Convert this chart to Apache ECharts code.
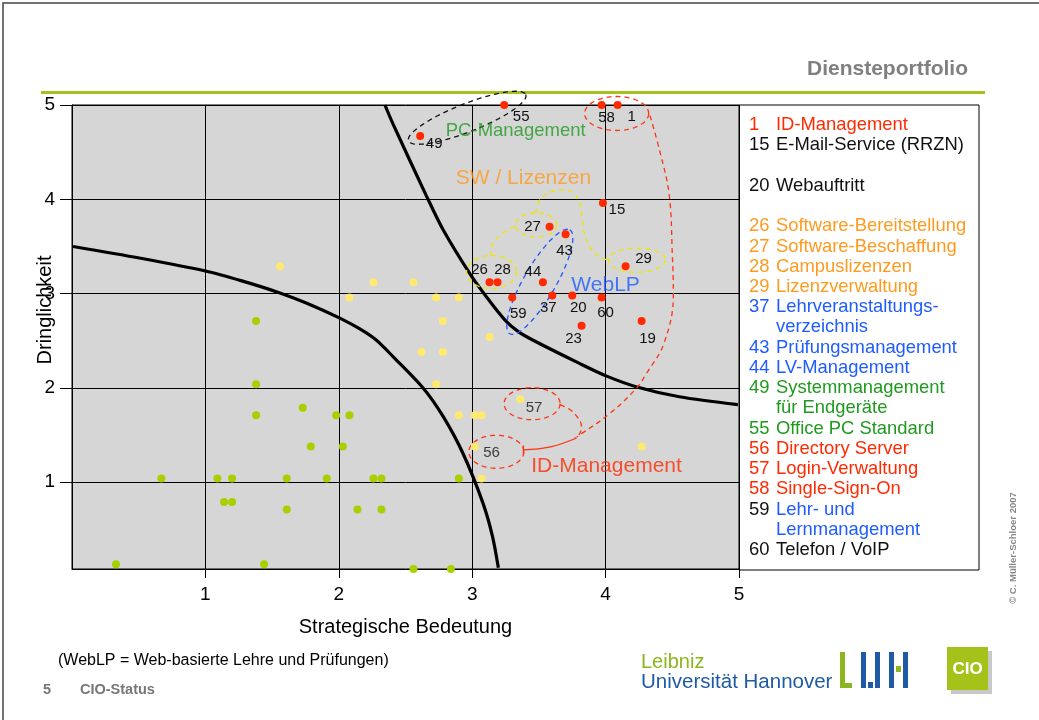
<!DOCTYPE html>
<html>
<head>
<meta charset="utf-8">
<script src="https://cdn.jsdelivr.net/npm/echarts@6/dist/echarts.min.js"></script>
<style>html,body{margin:0;padding:0;background:#fff}#c{width:1039px;height:720px}</style>
</head>
<body>
<div id="c"></div>
<script>
// ---------------- DATA ----------------
const xTicks = [1, 2, 3, 4, 5];
const yTicks = [1, 2, 3, 4, 5];

// Red (numbered) services
const redIds = ['55', '49', '58', '1', '15', '27', '43', '29', '26', '28', '44', '59', '37', '20', '60', '23', '19'];
const redX   = [3.24, 2.61, 3.97, 4.09, 3.98, 3.58, 3.70, 4.15, 3.13, 3.19, 3.53, 3.30, 3.60, 3.75, 3.97, 3.82, 4.27];
const redY   = [5.00, 4.67, 5.00, 5.00, 3.96, 3.71, 3.63, 3.29, 3.12, 3.12, 3.12, 2.96, 2.98, 2.98, 2.96, 2.66, 2.71];

// Yellow services
const yellowX = [1.56, 2.26, 2.56, 2.08, 2.73, 2.90, 2.78, 3.13, 2.62, 2.78, 2.73, 3.36, 2.90, 3.02, 3.07, 3.02, 4.27, 3.07];
const yellowY = [3.29, 3.12, 3.12, 2.96, 2.96, 2.96, 2.71, 2.54, 2.38, 2.38, 2.04, 1.88, 1.71, 1.71, 1.71, 1.38, 1.38, 1.04];

// Green services
const greenX = [1.38, 1.38, 1.38, 1.73, 1.98, 2.08, 1.79, 2.03, 0.67, 1.09, 1.20, 1.61, 1.91, 2.26, 2.32, 2.90, 1.14, 1.20, 1.61, 2.14, 2.32, 0.33, 1.44, 2.56, 2.84];
const greenY = [2.71, 2.04, 1.71, 1.79, 1.71, 1.71, 1.38, 1.38, 1.04, 1.04, 1.04, 1.04, 1.04, 1.04, 1.04, 1.04, 0.79, 0.79, 0.71, 0.71, 0.71, 0.13, 0.13, 0.08, 0.08];

// Boundary curves
const curveAX = [2.346, 2.406, 2.654, 2.782, 2.992, 3.116, 3.246, 3.348, 3.464, 3.804, 4.008, 4.235, 4.553, 4.992];
const curveAY = [5.00, 4.80, 4.045, 3.677, 3.19, 2.948, 2.719, 2.594, 2.50, 2.26, 2.125, 2.01, 1.906, 1.823];
const curveCX = [0.008, 0.515, 1.00, 1.273, 1.553, 1.765, 2.008, 2.158, 2.278, 2.406, 2.632, 2.782, 2.932, 3.08, 3.152, 3.196];
const curveCY = [3.50, 3.375, 3.24, 3.135, 3.01, 2.896, 2.74, 2.625, 2.51, 2.333, 2.00, 1.698, 1.302, 0.781, 0.427, 0.094];

// Legend entries
const legendNums  = ['1', '15', '', '20', '', '26', '27', '28', '29', '37', '', '43', '44', '49', '', '55', '56', '57', '58', '59', '', '60'];
const legendTexts = ['ID-Management', 'E-Mail-Service (RRZN)', '', 'Webauftritt', '', 'Software-Bereitstellung', 'Software-Beschaffung', 'Campuslizenzen', 'Lizenzverwaltung', 'Lehrveranstaltungs-', 'verzeichnis', 'Prüfungsmanagement', 'LV-Management', 'Systemmanagement', 'für Endgeräte', 'Office PC Standard', 'Directory Server', 'Login-Verwaltung', 'Single-Sign-On', 'Lehr- und', 'Lernmanagement', 'Telefon / VoIP'];

// ---------------- STYLE / LAYOUT ----------------
const FONT = '"Liberation Sans", Arial, Helvetica, sans-serif';
const C = { red: '#ff2a00', yellow: '#ffe96e', green: '#a8d000', orange: '#ff9a1f', blue: '#1f5cff', dgreen: '#1f9a1f', black: '#111111', plot: '#d6d6d6' };
const legendNumColor  = ['red','black','','black','','orange','orange','orange','orange','blue','','blue','blue','dgreen','','dgreen','red','red','red','black','','black'];
const legendTextColor = ['red','black','','black','','orange','orange','orange','orange','blue','blue','blue','blue','dgreen','dgreen','dgreen','red','red','red','blue','blue','black'];

// label offsets (px) of red point numbers
const redLabelOffset = {
  '55': [17, 12], '49': [14, 8], '58': [5, 13], '1': [14, 12], '15': [14, 7], '27': [-17, 0], '43': [-1, 17],
  '29': [18, -7], '26': [-10, -12], '28': [5, -12], '44': [-10, -10], '59': [6, 16], '37': [-4, 12],
  '20': [6, 12], '60': [4, 15], '23': [-8, 13], '19': [6, 18]
};

// Annotation ellipses (center in data units, semi-axes in px, angle in screen degrees)
const annEllipses = [
  { x: 2.962, y: 4.865, a: 63, b: 14, ang: -21.5, color: '#111111' },  // PC-Management
  { x: 4.083, y: 4.91, a: 32, b: 17, ang: 0, color: '#ff3311' },       // ID 58/1
  { x: 3.449, y: 1.833, a: 28, b: 16, ang: 0, color: '#ff3311' },      // 57
  { x: 3.181, y: 1.323, a: 27.5, b: 16.5, ang: 0, color: '#ff3311' },  // 56
  { x: 3.507, y: 3.125, a: 60, b: 16, ang: -60, color: '#2255ff' },    // WebLP
  { x: 3.145, y: 3.229, a: 25, b: 16.5, ang: 0, color: '#f2e600' },    // 26/28
  { x: 3.478, y: 3.729, a: 20.5, b: 12, ang: 0, color: '#f2e600' },    // 27
  { x: 4.235, y: 3.354, a: 28.5, b: 12, ang: 0, color: '#f2e600' }     // 29
];
// Annotation connector paths (data units)
const annPaths = [
  { color: '#ff3311', dash: [5, 4], pts: [[4.333, 4.888], [4.409, 4.494], [4.477, 4.045], [4.50, 3.417], [4.508, 3.0], [4.439, 2.479], [4.303, 2.146], [4.227, 1.99], [4.023, 1.719], [3.826, 1.521], [3.783, 1.479]] },
  { color: '#ff3311', dash: [5, 4], pts: [[3.659, 1.823], [3.732, 1.771], [3.79, 1.688], [3.819, 1.594], [3.804, 1.51], [3.768, 1.469]] },
  { color: '#ff3311', dash: null, pts: [[3.384, 1.344], [3.587, 1.375], [3.783, 1.469]] },
  { color: '#ff3311', dash: null, pts: [[3.384, 1.39], [3.384, 1.29]] },
  { color: '#f2e600', dash: [5, 4], pts: [[3.138, 3.396], [3.152, 3.521], [3.225, 3.635], [3.326, 3.719]] },
  { color: '#f2e600', dash: [5, 4], pts: [[3.478, 3.854], [3.50, 3.979], [3.587, 4.079], [3.71, 4.101], [3.804, 3.969], [3.826, 3.76], [3.855, 3.573], [3.928, 3.417], [4.022, 3.354]] }
];
// Annotation texts (data units)
const annTexts = [
  { t: 'PC-Management', x: 3.326, y: 4.73, color: '#1f9a1f', size: 18.5 },
  { t: 'SW / Lizenzen', x: 3.384, y: 4.225, color: '#ff9a1f', size: 21 },
  { t: 'WebLP', x: 4.0, y: 3.094, color: '#1f5cff', size: 21 },
  { t: 'ID-Management', x: 4.007, y: 1.167, color: '#ff2a00', size: 21 },
  { t: '57', x: 3.464, y: 1.79, color: '#111111', size: 15 },
  { t: '56', x: 3.145, y: 1.31, color: '#111111', size: 15 }
];

// ---------------- CHART ----------------
const chart = echarts.init(document.getElementById('c'), null, { renderer: 'canvas' });

function ellipsePoints(cx, cy, a, b, deg) {
  const th = deg * Math.PI / 180, pts = [];
  for (let i = 0; i <= 96; i++) {
    const t = i / 96 * Math.PI * 2;
    const ex = a * Math.cos(t), ey = b * Math.sin(t);
    pts.push([cx + ex * Math.cos(th) - ey * Math.sin(th), cy + ex * Math.sin(th) + ey * Math.cos(th)]);
  }
  return pts;
}

const redData = redIds.map((id, i) => ({
  name: id, value: [redX[i], redY[i]],
  label: { offset: redLabelOffset[id] }
}));

const series = [
  { type: 'line', data: curveAX.map((x, i) => [x, curveAY[i]]), smooth: 0.3, showSymbol: false, clip: false, silent: true,
    lineStyle: { color: '#000', width: 3.2 }, z: 2 },
  { type: 'line', data: curveCX.map((x, i) => [x, curveCY[i]]), smooth: 0.3, showSymbol: false, clip: false, silent: true,
    lineStyle: { color: '#000', width: 3.2 }, z: 2 },
  { type: 'scatter', data: greenX.map((x, i) => [x, greenY[i]]), symbolSize: 8, clip: false, itemStyle: { color: C.green, opacity: 1 }, z: 4 },
  { type: 'scatter', data: yellowX.map((x, i) => [x, yellowY[i]]), symbolSize: 8, clip: false, itemStyle: { color: C.yellow, opacity: 1 }, z: 4 },
  { type: 'scatter', data: redData, symbolSize: 8, clip: false, itemStyle: { color: C.red, opacity: 1 }, z: 5,
    label: { show: true, position: 'inside', formatter: p => p.name, color: C.black, fontSize: 15, fontFamily: FONT } },
  { type: 'custom', coordinateSystem: 'cartesian2d', clip: false, silent: true, z: 3,
    data: annEllipses.map(e => [e.x, e.y]),
    renderItem: (params, api) => {
      const e = annEllipses[params.dataIndex];
      const c = api.coord([e.x, e.y]);
      return { type: 'polyline', shape: { points: ellipsePoints(c[0], c[1], e.a, e.b, e.ang) },
        style: { fill: 'none', stroke: e.color, lineWidth: 1.3, lineDash: [5, 4] } };
    } },
  { type: 'scatter', data: annTexts.map(a => ({ value: [a.x, a.y], name: a.t,
      label: { color: a.color, fontSize: a.size } })),
    symbolSize: 0, clip: false, silent: true, z: 6,
    label: { show: true, position: 'inside', formatter: p => p.name, fontFamily: FONT } }
];
annPaths.forEach(p => series.push({
  type: 'line', data: p.pts, smooth: 0.4, showSymbol: false, clip: false, silent: true, z: 3,
  lineStyle: { color: p.color, width: 1.3, type: p.dash || 'solid' }
}));

// page graphics
const graphics = [
  { type: 'rect', shape: { x: 3, y: 3, width: 1040, height: 720 }, style: { fill: 'none', stroke: '#444', lineWidth: 1.5 }, z: -10, silent: true },
  { type: 'rect', shape: { x: 739, y: 105, width: 240, height: 465 }, style: { fill: '#fff', stroke: '#000', lineWidth: 1 }, z: -5, silent: true },
  { type: 'rect', shape: { x: 41, y: 91, width: 944, height: 3 }, style: { fill: '#a4c21c' }, silent: true },
  { type: 'text', x: 968, y: 69, style: { text: 'Diensteportfolio', fill: '#808080', font: 'bold 21px ' + FONT, align: 'right', verticalAlign: 'middle' } },
  { type: 'text', x: 45, y: 310, rotation: Math.PI / 2, style: { text: 'Dringlichkeit', fill: '#000', font: '20px ' + FONT, align: 'center', verticalAlign: 'middle' } },
  { type: 'text', x: 58, y: 661, style: { text: '(WebLP = Web-basierte Lehre und Prüfungen)', fill: '#000', font: '16px ' + FONT, verticalAlign: 'middle' } },
  { type: 'text', x: 43, y: 690, style: { text: '5', fill: '#777', font: 'bold 14.5px ' + FONT, verticalAlign: 'middle' } },
  { type: 'text', x: 80, y: 690, style: { text: 'CIO-Status', fill: '#777', font: 'bold 14.5px ' + FONT, verticalAlign: 'middle' } },
  { type: 'text', x: 641, y: 662, style: { text: 'Leibniz', fill: '#8db51e', font: '20px ' + FONT, verticalAlign: 'middle' } },
  { type: 'text', x: 641, y: 682, style: { text: 'Universität Hannover', fill: '#1f5aa6', font: '20.5px ' + FONT, verticalAlign: 'middle' } },
  // logo bars
  { type: 'rect', shape: { x: 840, y: 652, width: 5, height: 36 }, style: { fill: '#8db51e' } },
  { type: 'rect', shape: { x: 845, y: 683, width: 7, height: 5 }, style: { fill: '#8db51e' } },
  { type: 'rect', shape: { x: 861, y: 652, width: 5, height: 36 }, style: { fill: '#1f5aa6' } },
  { type: 'rect', shape: { x: 868, y: 682, width: 5, height: 6 }, style: { fill: '#1f5aa6' } },
  { type: 'rect', shape: { x: 875, y: 652, width: 5, height: 36 }, style: { fill: '#1f5aa6' } },
  { type: 'rect', shape: { x: 889, y: 652, width: 5, height: 36 }, style: { fill: '#1f5aa6' } },
  { type: 'rect', shape: { x: 896, y: 666, width: 5, height: 6 }, style: { fill: '#8db51e' } },
  { type: 'rect', shape: { x: 903, y: 652, width: 5, height: 36 }, style: { fill: '#1f5aa6' } },
  // CIO box
  { type: 'rect', shape: { x: 951, y: 651, width: 41, height: 43 }, style: { fill: '#c8c8c8' } },
  { type: 'rect', shape: { x: 947, y: 647, width: 41, height: 43 }, style: { fill: '#a5c21b' } },
  { type: 'text', x: 967.5, y: 669, style: { text: 'CIO', fill: '#fff', font: 'bold 17px ' + FONT, align: 'center', verticalAlign: 'middle' } },
  { type: 'text', x: 1013, y: 548, rotation: Math.PI / 2, style: { text: '© C. Müller-Schloer 2007', fill: '#888', font: 'bold 9.5px ' + FONT, align: 'center', verticalAlign: 'middle' } }
];
legendTexts.forEach((t, i) => {
  const y = 125 + i * 20.24;
  if (legendNums[i]) graphics.push({ type: 'text', x: 749, y, style: { text: legendNums[i], fill: C[legendNumColor[i]], font: '18.4px ' + FONT, verticalAlign: 'middle' } });
  if (t) graphics.push({ type: 'text', x: 776, y, style: { text: t, fill: C[legendTextColor[i]], font: '18.4px ' + FONT, verticalAlign: 'middle' } });
});

chart.setOption({
  animation: false,
  backgroundColor: '#fff',
  textStyle: { fontFamily: FONT },
  grid: { left: 72, right: 300, top: 105, bottom: 151, show: true, backgroundColor: C.plot, borderColor: '#000', borderWidth: 1, z: 0 },
  xAxis: {
    type: 'value', min: 0, max: 5, interval: 1,
    axisLine: { show: true, lineStyle: { color: '#000', width: 1 } },
    axisTick: { show: true, length: 9, lineStyle: { color: '#000' }, customValues: xTicks },
    axisLabel: { color: '#000', fontSize: 19, margin: 16, customValues: xTicks, fontFamily: FONT },
    splitLine: { show: true, lineStyle: { color: '#000', width: 1 } },
    name: 'Strategische Bedeutung', nameLocation: 'middle', nameGap: 48,
    nameTextStyle: { color: '#000', fontSize: 20, fontFamily: FONT }
  },
  yAxis: {
    type: 'value', min: 0.08, max: 5, splitNumber: 5,
    axisLine: { show: true, lineStyle: { color: '#000', width: 1 } },
    axisTick: { show: true, length: 12, lineStyle: { color: '#000' }, customValues: yTicks },
    axisLabel: { color: '#000', fontSize: 19, margin: 17, customValues: yTicks, fontFamily: FONT },
    splitLine: { show: true, lineStyle: { color: '#000', width: 1 } }
  },
  graphic: graphics,
  series
});
</script>
</body>
</html>
